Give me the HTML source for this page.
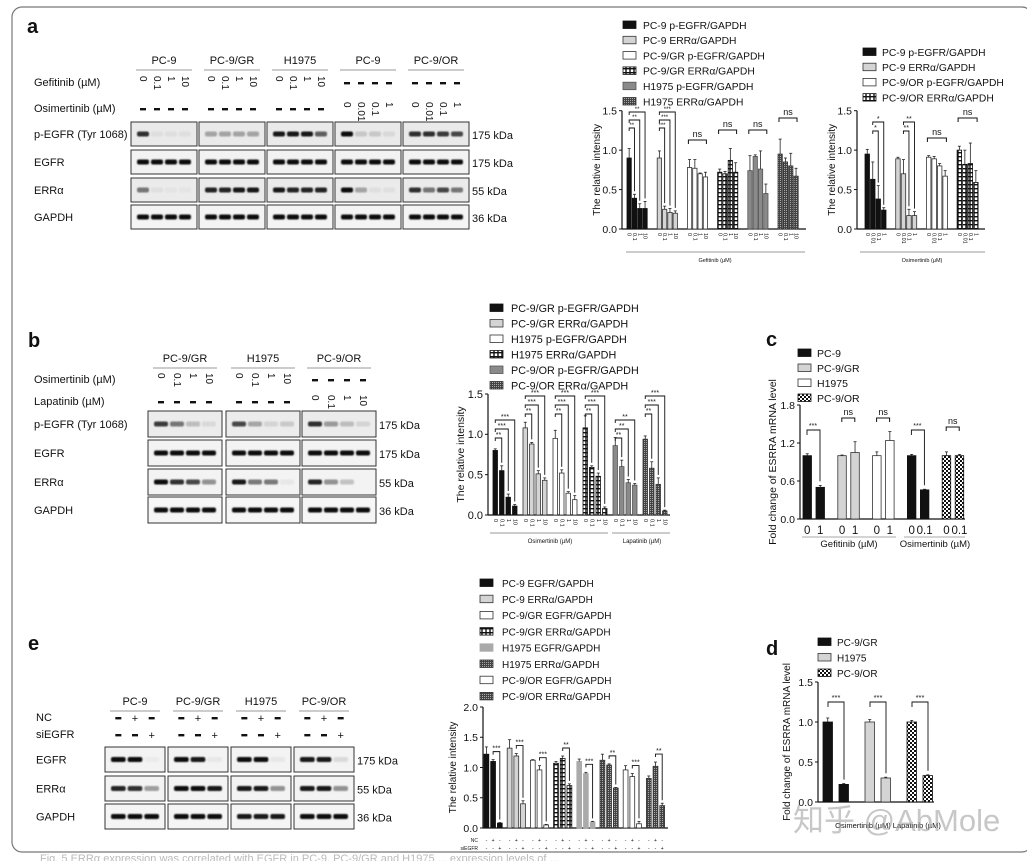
<!DOCTYPE html>
<html><head><meta charset="utf-8">
<style>
html,body{margin:0;padding:0;background:#fff;}
svg{display:block;font-family:"Liberation Sans","Noto Sans CJK SC",sans-serif;}
</style></head>
<body>
<svg id="fig" width="1027" height="861" viewBox="0 0 1027 861" xmlns="http://www.w3.org/2000/svg">
<defs>
<pattern id="grid" width="4" height="4" patternUnits="userSpaceOnUse"><rect width="4" height="4" fill="#fff"/><rect x="0" y="0" width="4" height="1.4" fill="#111"/><rect x="1.3" y="0" width="1.4" height="4" fill="#111"/></pattern>
<pattern id="dots" width="2" height="2" patternUnits="userSpaceOnUse"><rect width="2" height="2" fill="#444"/><rect width="1" height="1" fill="#aaa"/></pattern>
<pattern id="check" width="4" height="4" patternUnits="userSpaceOnUse"><rect width="4" height="4" fill="#fff"/><rect width="2" height="2" fill="#111"/><rect x="2" y="2" width="2" height="2" fill="#111"/></pattern>
<filter id="blur" x="-20%" y="-50%" width="140%" height="200%"><feGaussianBlur stdDeviation="0.8"/></filter>
</defs>
<rect x="12" y="7" width="1020" height="845" rx="10" fill="none" stroke="#777" stroke-width="1.2"/>
<text x="40" y="862" font-size="11" fill="#bbb">Fig. 5 ERRα expression was correlated with EGFR in PC-9, PC-9/GR and H1975 ... expression levels of ...</text>
<g id="root"></g>
</svg>
<script>
// ---------- chart data ----------
const a1Groups = ["PC-9 p-EGFR","PC-9 ERRα","PC-9/GR p-EGFR","PC-9/GR ERRα","H1975 p-EGFR","H1975 ERRα"];
const a1Values = [[0.9,0.39,0.26,0.26],[0.9,0.25,0.21,0.2],[0.78,0.77,0.7,0.66],[0.72,0.7,0.87,0.72],[0.74,0.92,0.76,0.45],[0.95,0.85,0.8,0.67]];
const a1Errors = [[0.12,0.05,0.06,0.09],[0.09,0.04,0.05,0.03],[0.1,0.11,0.01,0.06],[0.04,0.03,0.15,0.12],[0.19,0.02,0.23,0.12],[0.19,0.05,0.16,0.1]];
const a1Ticks = ["0","0.1","1","10"];
const a2Values = [[0.95,0.63,0.38,0.24],[0.89,0.7,0.17,0.17],[0.91,0.89,0.8,0.67],[1.0,0.82,0.83,0.59]];
const a2Errors = [[0.06,0.22,0.17,0.03],[0.02,0.18,0.08,0.05],[0.02,0.03,0.03,0.07],[0.05,0.18,0.26,0.15]];
const a2Ticks = ["0","0.01","0.1","1"];
const bValues = [[0.8,0.55,0.22,0.11],[1.08,0.88,0.51,0.43],[0.95,0.52,0.27,0.19],[1.08,0.59,0.48,0.08],[0.86,0.6,0.4,0.37],[0.94,0.58,0.38,0.05]];
const bErrors = [[0.02,0.06,0.04,0.02],[0.07,0.02,0.04,0.03],[0.1,0.04,0.02,0.05],[0.15,0.02,0.04,0.02],[0.1,0.08,0.04,0.02],[0.04,0.08,0.08,0.01]];
const bTicks = ["0","0.1","1","10"];
const cValues = [[1.0,0.5],[1.0,1.05],[1.0,1.24],[1.0,0.46],[1.0,1.0]];
const cErrors = [[0.03,0.03],[0.01,0.17],[0.06,0.14],[0.02,0.01],[0.06,0.02]];
const cTicks = [["0","1"],["0","1"],["0","1"],["0","0.1"],["0","0.1"]];
const dValues = [[1.0,0.22],[1.0,0.3],[1.0,0.33]];
const dErrors = [[0.05,0.01],[0.03,0.01],[0.02,0.01]];
const eValues = [[1.22,1.1,0.08],[1.32,1.19,0.4],[1.12,0.96,0.05],[1.07,1.15,0.7],[1.1,0.9,0.1],[1.12,1.04,0.66],[0.96,0.85,0.07],[0.82,1.02,0.37]];
const eErrors = [[0.12,0.03,0.01],[0.14,0.04,0.05],[0.01,0.07,0.01],[0.03,0.04,0.03],[0.04,0.02,0.01],[0.1,0.02,0.01],[0.07,0.05,0.04],[0.04,0.07,0.04]];

const NS="http://www.w3.org/2000/svg";
const root=document.getElementById('root');
function el(tag,attrs,parent,txt){const e=document.createElementNS(NS,tag);for(const k in attrs)e.setAttribute(k,attrs[k]);if(txt!==undefined)e.textContent=txt;(parent||root).appendChild(e);return e;}
function txt(x,y,s,size,parent,extra){const t=el('text',Object.assign({x:x,y:y,'font-size':size,fill:'#111'},extra||{}),parent,s);return t;}

const F={black:{fill:'#111',stroke:'#111'},light:{fill:'#d4d4d4',stroke:'#333'},white:{fill:'#fff',stroke:'#333'},grid:{fill:'url(#grid)',stroke:'#111'},mid:{fill:'#8a8a8a',stroke:'#555'},dots:{fill:'url(#dots)',stroke:'#333'},check:{fill:'url(#check)',stroke:'#111'},pale:{fill:'#aaa',stroke:'#aaa'}};

function legend(x,y,step,labels,fills,size,name,tx){
  const g=el('g',{});
  
  
  labels.forEach((l,i)=>{
    const e=el('g',{},g);
    
    
    el('rect',{x:x,y:y+i*step-4,width:13,height:7.5,fill:F[fills[i]].fill,stroke:F[fills[i]].stroke,'stroke-width':0.8},e);
    txt(tx,y+i*step+3.8,l,size,e);
  });
}

function chart(c){
  const g=el('g',{});
  
  
  const ys=v=>c.y0-(v/c.max)*(c.y0-c.yTop);
  el('line',{x1:c.ax,y1:c.yTop,x2:c.ax,y2:c.y0,stroke:'#111','stroke-width':1.2},g);
  el('line',{x1:c.ax,y1:c.y0,x2:c.axEnd,y2:c.y0,stroke:'#111','stroke-width':1.2},g);
  c.yticks.forEach(t=>{const y=ys(t);el('line',{x1:c.ax-3,y1:y,x2:c.ax,y2:y,stroke:'#111'},g);
    const tt=txt(c.ax-5,y+3.8,t.toFixed(1),c.fs,g,{'text-anchor':'end'});
    });
  const yt=txt(0,0,c.ytitle,c.tfs||c.fs,g,{'text-anchor':'middle',transform:`translate(${c.ytx},${(c.yTop+c.y0)/2}) rotate(-90)`});
  
  c.values.forEach((vals,gi)=>{
    const gs=c.start+gi*c.gstep;
    vals.forEach((v,bi)=>{
      const x=gs+bi*c.bstep, y=ys(v), f=F[c.fills[gi]];
      const b=el('rect',{x:x,y:y,width:c.bw,height:c.y0-y,fill:f.fill,stroke:f.stroke,'stroke-width':0.8},g);
      
      
      const e=c.errors[gi][bi], ye=ys(v+e), cx=x+c.bw/2;
      el('line',{x1:cx,y1:y,x2:cx,y2:ye,stroke:'#222','stroke-width':0.8},g);
      el('line',{x1:cx-1.5,y1:ye,x2:cx+1.5,y2:ye,stroke:'#222','stroke-width':0.8},g);
      if(c.tickFn) c.tickFn(g,cx,gi,bi);
    });
    if(c.sig) c.sig(g,gs,gi,ys);
  });
  return g;
}

function rotTicks(labels,size,y0){return (g,cx,gi,bi)=>{txt(0,0,labels[bi],size,g,{transform:`translate(${cx-1.5},${y0+4}) rotate(90)`});};}
function nsBracket(g,x1,x2,y,label,fs){
  el('path',{d:`M${x1},${y+4}V${y}H${x2}V${y+4}`,fill:'none',stroke:'#111','stroke-width':1},g);
  txt((x1+x2)/2,y-3,label,fs,g,{'text-anchor':'middle'});
}
function stepBrackets(g,gs,bstep,bw,ys,vals,errs,labels,fs,top){
  const x0=gs+bw/2;
  for(let k=1;k<vals.length;k++){
    const y=top+(vals.length-1-k)*(fs+1);
    const xk=gs+k*bstep+bw/2;
    el('path',{d:`M${x0},${y+3}V${y}H${xk}V${ys(vals[k]+errs[k])-3}`,fill:'none',stroke:'#111','stroke-width':0.9},g);
    txt((x0+xk)/2,y-1,labels[k-1],fs-1,g,{'text-anchor':'middle'});
  }
}

function panelLetter(x,y,l){const t=txt(x,y,l,20,root,{'font-weight':'bold'});}
panelLetter(27,33,'a');panelLetter(28,347,'b');panelLetter(766,346,'c');panelLetter(766,655,'d');panelLetter(28,650,'e');

function blot(cfg){
  const g=el('g',{});
  
  
  cfg.cols.forEach((cx,ci)=>{
    txt(cx+cfg.w/2,cfg.hy,cfg.headers[ci],11,g,{'text-anchor':'middle'});
    el('line',{x1:cx+5,y1:cfg.hy+6,x2:cx+cfg.w-5,y2:cfg.hy+6,stroke:'#777','stroke-width':0.8},g);
    cfg.rows.forEach((ry,ri)=>{
      el('rect',{x:cx,y:ry,width:cfg.w,height:cfg.h,fill:cfg.bg[ri]||'#f3f3f3',stroke:'#333','stroke-width':1},g);
      const n=cfg.lanes, lw=(cfg.w-10)/n;
      const ints=cfg.bands[ri][ci];
      for(let k=0;k<n;k++){
        const a=ints[k]; if(a<=0.02) continue;
        el('rect',{x:cx+5+k*lw+1,y:ry+cfg.h/2-2.5,width:lw-2,height:5,rx:2,fill:'#000','fill-opacity':a,filter:'url(#blur)'},g);
      }
    });
  });
  cfg.rowLabels.forEach((l,i)=>txt(cfg.lx,cfg.rows[i]+cfg.h/2+4,l,11,g));
  cfg.kda.forEach((l,i)=>txt(cfg.kx,cfg.rows[i]+cfg.h/2+5,l,11,g));
  cfg.treat.forEach(t=>{
    txt(cfg.lx,t.y,t.label,11,g);
    cfg.cols.forEach((cx,ci)=>{const lw=(cfg.w-10)/cfg.lanes;t.vals[ci].forEach((s,k)=>{
      const x=cx+5+k*lw+lw/2;
      if(s==='-'){el('rect',{x:x-3,y:t.y-4,width:6,height:2.4,fill:'#111'},g);}
      else if(s==='+'){txt(x,t.y+1,'+',11,g,{'text-anchor':'middle'});}
      else txt(0,0,s,10,g,{transform:`translate(${x-3},${t.y-10}) rotate(90)`});
    });});
  });
}
const full=[0.95,0.95,0.95,0.95];
blot({name:'blot-a',cols:[131,199,267,335,403],w:66,h:24,rows:[122,150,178,205],lanes:4,hy:64,
  headers:['PC-9','PC-9/GR','H1975','PC-9','PC-9/OR'],
  bg:['#eaeaea','#f2f2f2','#ebebeb','#f4f4f4'],
  bands:[[[0.8,0.05,0.05,0.05],[0.3,0.3,0.3,0.3],[0.9,0.9,0.9,0.6],[0.95,0.15,0.15,0.08],[0.8,0.8,0.75,0.7]],
         [full,full,full,full,full],
         [[0.5,0.05,0.03,0.03],[0.85,0.85,0.9,0.9],[0.9,0.85,0.85,0.85],[0.95,0.3,0.05,0.05],[0.8,0.5,0.7,0.5]],
         [full,full,full,full,full]],
  rowLabels:['p-EGFR (Tyr 1068)','EGFR','ERRα','GAPDH'],lx:34,kx:472,kda:['175 kDa','175 kDa','55 kDa','36 kDa'],
  treat:[{label:'Gefitinib (µM)',y:86,vals:[['0','0.1','1','10'],['0','0.1','1','10'],['0','0.1','1','10'],['-','-','-','-'],['-','-','-','-']]},
         {label:'Osimertinib (µM)',y:112,vals:[['-','-','-','-'],['-','-','-','-'],['-','-','-','-'],['0','0.01','0.1','1'],['0','0.01','0.1','1']]}]});

legend(623,25,15.3,['PC-9 p-EGFR/GAPDH','PC-9 ERRα/GAPDH','PC-9/GR p-EGFR/GAPDH','PC-9/GR ERRα/GAPDH','H1975 p-EGFR/GAPDH','H1975 ERRα/GAPDH'],['black','light','white','grid','mid','dots'],10.3,'legend-a1',643);
chart({name:'chart-a-gefitinib',ax:622,axEnd:806,y0:229,yTop:110.7,max:1.5,yticks:[0,0.5,1,1.5],fs:10.5,tfs:10,ytx:600,ytitle:'The relative intensity',
  start:627,gstep:30.2,bstep:5.3,bw:4.3,values:a1Values,errors:a1Errors,fills:['black','light','white','grid','mid','dots'],
  tickFn:rotTicks(a1Ticks,5.5,229),
  sig:(g,gs,gi,ys)=>{ if(gi<2) stepBrackets(g,gs,5.3,4.3,ys,a1Values[gi],a1Errors[gi],gi==0?['**','**','**']:['***','***','***'],7,112);
    else nsBracket(g,gs+1,gs+19,gi==5?118:(gi==2?140:130),'ns',9);}});
el('line',{x1:626,y1:252,x2:805,y2:252,stroke:'#777','stroke-width':0.7});
txt(715,262,'Gefitinib (µM)',5.5,root,{'text-anchor':'middle'});

legend(863,52,15.2,['PC-9 p-EGFR/GAPDH','PC-9 ERRα/GAPDH','PC-9/OR p-EGFR/GAPDH','PC-9/OR ERRα/GAPDH'],['black','light','white','grid'],10.3,'legend-a2',882);
chart({name:'chart-a-osimertinib',ax:857,axEnd:985,y0:229,yTop:110.7,max:1.5,yticks:[0,0.5,1,1.5],fs:10.5,tfs:10,ytx:835,ytitle:'The relative intensity',
  start:865,gstep:30.7,bstep:5.5,bw:4.5,values:a2Values,errors:a2Errors,fills:['black','light','white','grid'],
  tickFn:rotTicks(a2Ticks,5.5,229),
  sig:(g,gs,gi,ys)=>{ if(gi<2) stepBrackets(g,gs+5.5,5.5,4.5,ys,[0].concat(a2Values[gi].slice(2)),[0].concat(a2Errors[gi].slice(2)),gi==0?['*','*']:['**','**'],8,122);
    else nsBracket(g,gs+1,gs+20,gi==3?118:138,'ns',9);}});
el('line',{x1:860,y1:252,x2:985,y2:252,stroke:'#777','stroke-width':0.7});
txt(922,262,'Osimertinib (µM)',5.5,root,{'text-anchor':'middle'});

// ---------- Panel b ----------
blot({name:'blot-b',cols:[148,226,302],w:74,h:26,rows:[411,440,469,497],lanes:4,hy:362,
  headers:['PC-9/GR','H1975','PC-9/OR'],bg:['#ececec','#f3f3f3','#f3f3f3','#f6f6f6'],
  bands:[[[0.75,0.5,0.2,0.08],[0.7,0.3,0.1,0.15],[0.8,0.35,0.2,0.1]],[full,full,full],[[0.95,0.8,0.7,0.4],[0.9,0.5,0.5,0.05],[0.85,0.4,0.2,0.02]],[full,full,full]],
  rowLabels:['p-EGFR (Tyr 1068)','EGFR','ERRα','GAPDH'],lx:34,kx:379,kda:['175 kDa','175 kDa','55 kDa','36 kDa'],
  treat:[{label:'Osimertinib (µM)',y:383,vals:[['0','0.1','1','10'],['0','0.1','1','10'],['-','-','-','-']]},
         {label:'Lapatinib (µM)',y:405,vals:[['-','-','-','-'],['-','-','-','-'],['0','0.1','1','10']]}]});
legend(490,308,15.5,['PC-9/GR p-EGFR/GAPDH','PC-9/GR ERRα/GAPDH','H1975 p-EGFR/GAPDH','H1975 ERRα/GAPDH','PC-9/OR p-EGFR/GAPDH','PC-9/OR ERRα/GAPDH'],['black','light','white','grid','mid','dots'],10.8,'legend-b',511);
chart({name:'chart-b',ax:488,axEnd:670,y0:515,yTop:394,max:1.5,yticks:[0,0.5,1,1.5],fs:11,tfs:10.5,ytx:464,ytitle:'The relative intensity',
  start:493,gstep:30,bstep:6.5,bw:4.5,values:bValues,errors:bErrors,fills:['black','light','white','grid','mid','dots'],
  tickFn:rotTicks(bTicks,5.5,515),
  sig:(g,gs,gi,ys)=>stepBrackets(g,gs,6.5,4.5,ys,bValues[gi],bErrors[gi],gi==4?['**','**','**']:['**','***','***'],8,gi==4?420:(gi==0?420:396))});
el('line',{x1:490,y1:533,x2:608,y2:533,stroke:'#777','stroke-width':0.7});
el('line',{x1:612,y1:533,x2:670,y2:533,stroke:'#777','stroke-width':0.7});
txt(550,543,'Osimertinib (µM)',6,root,{'text-anchor':'middle'});
txt(642,543,'Lapatinib (µM)',6,root,{'text-anchor':'middle'});

// ---------- Panel c ----------
legend(798,353,15,['PC-9','PC-9/GR','H1975','PC-9/OR'],['black','light','white','check'],10.5,'legend-c',817);
chart({name:'chart-c',ax:800,axEnd:965,y0:519,yTop:405,max:1.8,yticks:[0,0.6,1.2,1.8],fs:10.5,tfs:10.5,ytx:776,ytitle:'Fold change of ESRRA mRNA level',
  start:803,gstep:34.8,bstep:13,bw:8.5,values:cValues,errors:cErrors,fills:['black','light','white','black','check'],
  tickFn:(g,cx,gi,bi)=>txt(cx,534,cTicks[gi][bi],11.5,g,{'text-anchor':'middle'}),
  sig:(g,gs,gi,ys)=>{const lab=(gi==0||gi==3)?'***':'ns';const y=[430,418,418,430,427][gi];
    if(lab==='***'){el('path',{d:`M${gs+4},${y+5}V${y}H${gs+17}V${ys(cValues[gi][1]+cErrors[gi][1])-4}`,fill:'none',stroke:'#111','stroke-width':0.9},g);txt(gs+10,y-2,lab,7,g,{'text-anchor':'middle'});}
    else nsBracket(g,gs+4,gs+17,y,lab,9);}});
el('line',{x1:802,y1:537,x2:896,y2:537,stroke:'#aaa','stroke-width':1});
el('line',{x1:904,y1:537,x2:965,y2:537,stroke:'#aaa','stroke-width':1});
txt(849,547,'Gefitinib (µM)',9.5,root,{'text-anchor':'middle'});
txt(935,547,'Osimertinib (µM)',9.5,root,{'text-anchor':'middle'});

// ---------- Panel d ----------
legend(818,642,15.5,['PC-9/GR','H1975','PC-9/OR'],['black','light','check'],10,'legend-d',837);
chart({name:'chart-d',ax:818,axEnd:934,y0:802,yTop:682,max:1.5,yticks:[0,0.5,1,1.5],fs:10.5,tfs:10,ytx:790,ytitle:'Fold change of ESRRA mRNA level',
  start:823,gstep:42,bstep:16,bw:9.5,values:dValues,errors:dErrors,fills:['black','light','check'],
  sig:(g,gs,gi,ys)=>{const y=702;el('path',{d:`M${gs+5},${y+5}V${y}H${gs+21}V${ys(dValues[gi][1]+dErrors[gi][1])-4}`,fill:'none',stroke:'#111','stroke-width':0.9},g);txt(gs+13,y-2,'***',7.5,g,{'text-anchor':'middle'});}});
txt(888,828,'Osimertinib (µM) Lapatinib (µM)',7.5,root,{'text-anchor':'middle'});
const wm=txt(793,831,'知乎 @AbMole',31,root,{fill:'#999','fill-opacity':0.55});


// ---------- Panel e ----------
blot({name:'blot-e',cols:[105,168,231,294],w:60,h:25,rows:[747,776,804],lanes:3,hy:705,
  headers:['PC-9','PC-9/GR','H1975','PC-9/OR'],bg:['#f3f3f3','#f3f3f3','#f5f5f5'],
  bands:[[[0.95,0.95,0.03],[0.95,0.9,0.05],[0.95,0.95,0.05],[0.9,0.9,0.1]],[[0.85,0.8,0.35],[0.95,0.95,0.9],[0.9,0.9,0.4],[0.9,0.9,0.4]],[[0.95,0.95,0.95],[0.95,0.95,0.95],[0.9,0.9,0.9],[0.95,0.95,0.95]]],
  rowLabels:['EGFR','ERRα','GAPDH'],lx:36,kx:357,kda:['175 kDa','55 kDa','36 kDa'],
  treat:[{label:'NC',y:721,vals:[['-','+','-'],['-','+','-'],['-','+','-'],['-','+','-']]},
         {label:'siEGFR',y:738,vals:[['-','-','+'],['-','-','+'],['-','-','+'],['-','-','+']]}]});
legend(480,583,16.2,['PC-9 EGFR/GAPDH','PC-9 ERRα/GAPDH','PC-9/GR EGFR/GAPDH','PC-9/GR ERRα/GAPDH','H1975 EGFR/GAPDH','H1975 ERRα/GAPDH','PC-9/OR EGFR/GAPDH','PC-9/OR ERRα/GAPDH'],['black','light','white','grid','pale','dots','white','dots'],10,'legend-e',502);
chart({name:'chart-e',ax:483,axEnd:668,y0:828,yTop:707,max:2.0,yticks:[0,0.5,1,1.5,2],fs:10.5,tfs:10,ytx:456,ytitle:'The relative intensity',
  start:484,gstep:23.2,bstep:6.7,bw:4.8,values:eValues,errors:eErrors,fills:['black','light','white','grid','pale','dots','white','dots'],
  sig:(g,gs,gi,ys)=>{const v=eValues[gi],e=eErrors[gi];const y=ys(Math.max(v[1]+e[1],0))-8;const x1=gs+6.7+2.4,x2=gs+13.4+2.4;
    el('path',{d:`M${x1},${y+3}V${y}H${x2}V${ys(v[2]+e[2])-3}`,fill:'none',stroke:'#111','stroke-width':0.9},g);
    txt((x1+x2)/2,y-1,[ '***','***','***','**','***','**','***','**'][gi],7,g,{'text-anchor':'middle'});}});
txt(478,842,'NC',5,root,{'text-anchor':'end'});
txt(478,850,'siEGFR',5,root,{'text-anchor':'end'});
for(let gi=0;gi<8;gi++){for(let b=0;b<3;b++){const x=484+gi*23.2+b*6.7+2.4;
  txt(x,842,b==1?'+':'-',5,root,{'text-anchor':'middle'});txt(x,850,b==2?'+':'-',5,root,{'text-anchor':'middle'});}}
</script>
</body></html>
